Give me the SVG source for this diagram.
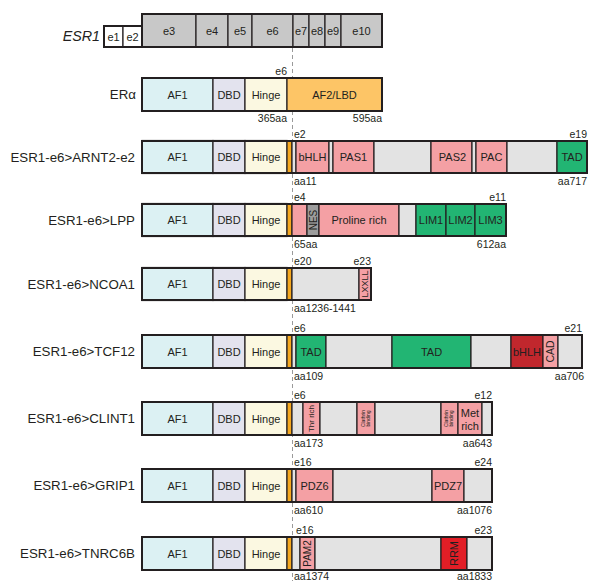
<svg xmlns="http://www.w3.org/2000/svg" width="590" height="581" viewBox="0 0 590 581">
<style>
text{font-family:"Liberation Sans",Arial,sans-serif;fill:#231f20}
.lbl{font-size:13.3px;text-anchor:end}
.in{font-size:11px;text-anchor:middle}
.sm{font-size:10.5px}
.e{text-anchor:end}
.s{stroke:#231f20;stroke-width:1.2}
.o{fill:none;stroke:#231f20;stroke-width:2}
.af1{fill:#dcf1f3}.dbd{fill:#e3e3ee}.hin{fill:#fbf8e1}.lbd{fill:#fdc566}.or{fill:#f5a81f}
.pk{fill:#f4a0a4}.gr{fill:#e3e3e3}.gn{fill:#22b573}.dr{fill:#c1272d}.rd{fill:#e21e26}.ng{fill:#9d9d9d}.ex{fill:#c8c8c8}.wh{fill:#ffffff}
</style>
<defs>
<g id="esr">
<rect class="af1 s" x="142" y="0" width="71" height="33"/>
<rect class="dbd s" x="213" y="0" width="32" height="33"/>
<rect class="hin s" x="245" y="0" width="42" height="33"/>
<text class="in" x="177.5" y="20.5">AF1</text>
<text class="in" x="229" y="20.5">DBD</text>
<text class="in" x="266" y="20.5">Hinge</text>
</g>
</defs>

<g id="connectors">
<line x1="292.5" y1="48" x2="292.5" y2="581" stroke="#9a9a9a" stroke-width="1" stroke-dasharray="4 3"/>
</g>

<g id="ESR1">
<text x="100" y="41" style="font-size:14.3px;font-style:italic;text-anchor:end">ESR1</text>
<rect class="wh s" x="104" y="26" width="19" height="21"/>
<rect class="wh s" x="123" y="26" width="19" height="21"/>
<rect class="ex s" x="142" y="14" width="54" height="33"/>
<rect class="ex s" x="196" y="14" width="32" height="33"/>
<rect class="ex s" x="228" y="14" width="24" height="33"/>
<rect class="ex s" x="252" y="14" width="41" height="33"/>
<rect class="ex s" x="293" y="14" width="16" height="33"/>
<rect class="ex s" x="309" y="14" width="16" height="33"/>
<rect class="ex s" x="325" y="14" width="16" height="33"/>
<rect class="ex s" x="341" y="14" width="41" height="33"/>
<rect class="o" x="142" y="14" width="240" height="33"/>
<rect class="o" x="104" y="26" width="38" height="21"/>
<text class="in" x="113.5" y="40.5">e1</text>
<text class="in" x="132.5" y="40.5">e2</text>
<text class="in" x="169" y="34.5">e3</text>
<text class="in" x="212" y="34.5">e4</text>
<text class="in" x="240" y="34.5">e5</text>
<text class="in" x="272.5" y="34.5">e6</text>
<text class="in" x="301" y="34.5">e7</text>
<text class="in" x="317" y="34.5">e8</text>
<text class="in" x="333" y="34.5">e9</text>
<text class="in" x="361.5" y="34.5">e10</text>
</g>

<g id="ERa">
<text class="lbl" x="136" y="99">ERα</text>
<use href="#esr" y="78"/>
<rect class="lbd s" x="287" y="78" width="95" height="33"/>
<text class="in" x="334.5" y="98.5">AF2/LBD</text>
<rect class="o" x="142" y="78" width="240" height="33"/>
<text class="sm e" x="287" y="75">e6</text>
<text class="sm e" x="287" y="121.5">365aa</text>
<text class="sm e" x="382" y="121.5">595aa</text>
</g>

<g id="ARNT2">
<text class="lbl" x="135" y="161.5">ESR1-e6&gt;ARNT2-e2</text>
<use href="#esr" y="140.5"/>
<rect class="or s" x="287" y="141" width="5" height="32"/>
<rect class="gr s" x="292" y="141" width="4" height="32"/>
<rect class="pk s" x="296" y="141" width="33" height="32"/>
<rect class="gr s" x="329" y="141" width="4" height="32"/>
<rect class="pk s" x="333" y="141" width="41" height="32"/>
<rect class="gr s" x="374" y="141" width="57" height="32"/>
<rect class="pk s" x="431" y="141" width="41" height="32"/>
<rect class="gr s" x="472" y="141" width="4" height="32"/>
<rect class="pk s" x="476" y="141" width="31" height="32"/>
<rect class="gr s" x="507" y="141" width="50" height="32"/>
<rect class="gn s" x="557" y="141" width="30" height="32"/>
<text class="in" x="312.5" y="161">bHLH</text>
<text class="in" x="353.5" y="161">PAS1</text>
<text class="in" x="452.5" y="161">PAS2</text>
<text class="in" x="491.5" y="161">PAC</text>
<text class="in" x="572" y="161">TAD</text>
<rect class="o" x="142" y="141" width="445" height="32"/>
<text class="sm" x="294" y="137.5">e2</text>
<text class="sm e" x="587" y="137.5">e19</text>
<text class="sm" x="294" y="184.5">aa11</text>
<text class="sm e" x="587" y="184.5">aa717</text>
</g>

<g id="LPP">
<text class="lbl" x="135" y="224.5">ESR1-e6&gt;LPP</text>
<use href="#esr" y="203.5"/>
<rect class="or s" x="287" y="204" width="5" height="32"/>
<rect class="pk s" x="292" y="204" width="15" height="32"/>
<rect class="ng s" x="307" y="204" width="12" height="32"/>
<rect class="pk s" x="319" y="204" width="80" height="32"/>
<rect class="gr s" x="399" y="204" width="17" height="32"/>
<rect class="gn s" x="416" y="204" width="30" height="32"/>
<rect class="gn s" x="446" y="204" width="29" height="32"/>
<rect class="gn s" x="475" y="204" width="31" height="32"/>
<text class="in" transform="translate(317,220) rotate(-90)" style="font-size:10px">NES</text>
<text class="in" x="359" y="224">Proline rich</text>
<text class="in" x="431" y="224">LIM1</text>
<text class="in" x="460.5" y="224">LIM2</text>
<text class="in" x="490.5" y="224">LIM3</text>
<rect class="o" x="142" y="204" width="364" height="32"/>
<text class="sm" x="294" y="200.5">e4</text>
<text class="sm e" x="506" y="200.5">e11</text>
<text class="sm" x="294" y="247.5">65aa</text>
<text class="sm e" x="506" y="247.5">612aa</text>
</g>

<g id="NCOA1">
<text class="lbl" x="135" y="288.5">ESR1-e6&gt;NCOA1</text>
<use href="#esr" y="267.5"/>
<rect class="or s" x="287" y="268" width="5" height="32"/>
<rect class="gr s" x="292" y="268" width="67" height="32"/>
<rect class="pk s" x="359" y="268" width="12" height="32"/>
<text class="in" transform="translate(368.2,284) rotate(-90)" style="font-size:9px">LXXLL</text>
<rect class="o" x="142" y="268" width="229" height="32"/>
<text class="sm" x="294" y="264.5">e20</text>
<text class="sm e" x="371" y="264.5">e23</text>
<text class="sm" x="294" y="311.5">aa1236-1441</text>
</g>

<g id="TCF12">
<text class="lbl" x="135" y="356">ESR1-e6&gt;TCF12</text>
<use href="#esr" y="335"/>
<rect class="or s" x="287" y="335" width="5" height="33"/>
<rect class="gr s" x="292" y="335" width="4" height="33"/>
<rect class="gn s" x="296" y="335" width="30" height="33"/>
<rect class="gr s" x="326" y="335" width="66" height="33"/>
<rect class="gn s" x="392" y="335" width="79" height="33"/>
<rect class="gr s" x="471" y="335" width="40" height="33"/>
<rect class="dr s" x="511" y="335" width="32" height="33"/>
<rect class="pk s" x="543" y="335" width="15" height="33"/>
<rect class="gr s" x="558" y="335" width="24" height="33"/>
<text class="in" x="311" y="355.5">TAD</text>
<text class="in" x="431.5" y="355.5">TAD</text>
<text class="in" x="527" y="355.5">bHLH</text>
<text class="in" transform="translate(554.3,351.5) rotate(-90)" style="font-size:10.5px">CAD</text>
<rect class="o" x="142" y="335" width="440" height="33"/>
<text class="sm" x="294" y="331.5">e6</text>
<text class="sm e" x="582" y="331.5">e21</text>
<text class="sm" x="294" y="379.5">aa109</text>
<text class="sm e" x="584" y="379.5">aa706</text>
</g>

<g id="CLINT1">
<text class="lbl" x="135" y="423">ESR1-e6&gt;CLINT1</text>
<use href="#esr" y="402"/>
<rect class="or s" x="287" y="402" width="5" height="33"/>
<rect class="gr s" x="292" y="402" width="11" height="33"/>
<rect class="pk s" x="303" y="402" width="17" height="33"/>
<rect class="gr s" x="320" y="402" width="37" height="33"/>
<rect class="pk s" x="357" y="402" width="18" height="33"/>
<rect class="gr s" x="375" y="402" width="66" height="33"/>
<rect class="pk s" x="441" y="402" width="17" height="33"/>
<rect class="pk s" x="458" y="402" width="24" height="33"/>
<rect class="gr s" x="482" y="402" width="10" height="33"/>
<text class="in" transform="translate(314.3,418.5) rotate(-90)" style="font-size:8px">Thr rich</text>
<text class="in" transform="translate(365,418.5) rotate(-90)" style="font-size:5px"><tspan x="0" y="-0.5">Clathrin</tspan><tspan x="0" y="5">binding</tspan></text>
<text class="in" transform="translate(448,418.5) rotate(-90)" style="font-size:5px"><tspan x="0" y="-0.5">Clathrin</tspan><tspan x="0" y="5">binding</tspan></text>
<text class="in" x="470" y="416.5" style="font-size:11px">Met</text>
<text class="in" x="470" y="430" style="font-size:11px">rich</text>
<rect class="o" x="142" y="402" width="350" height="33"/>
<text class="sm" x="294" y="398.5">e6</text>
<text class="sm e" x="492" y="398.5">e12</text>
<text class="sm" x="294" y="446.5">aa173</text>
<text class="sm e" x="492" y="446.5">aa643</text>
</g>

<g id="GRIP1">
<text class="lbl" x="135" y="490">ESR1-e6&gt;GRIP1</text>
<use href="#esr" y="469"/>
<rect class="or s" x="287" y="469" width="5" height="33"/>
<rect class="gr s" x="292" y="469" width="4" height="33"/>
<rect class="pk s" x="296" y="469" width="37" height="33"/>
<rect class="gr s" x="333" y="469" width="99" height="33"/>
<rect class="pk s" x="432" y="469" width="32" height="33"/>
<rect class="gr s" x="464" y="469" width="28" height="33"/>
<text class="in" x="314.5" y="489.5">PDZ6</text>
<text class="in" x="448" y="489.5">PDZ7</text>
<rect class="o" x="142" y="469" width="350" height="33"/>
<text class="sm" x="294" y="465.5">e16</text>
<text class="sm e" x="492" y="465.5">e24</text>
<text class="sm" x="294" y="513.5">aa610</text>
<text class="sm e" x="492" y="513.5">aa1076</text>
</g>

<g id="TNRC6B">
<text class="lbl" x="135" y="558">ESR1-e6&gt;TNRC6B</text>
<use href="#esr" y="537"/>
<rect class="or s" x="287" y="537" width="5" height="33"/>
<rect class="gr s" x="292" y="537" width="8" height="33"/>
<rect class="pk s" x="300" y="537" width="15" height="33"/>
<rect class="gr s" x="315" y="537" width="126" height="33"/>
<rect class="rd s" x="441" y="537" width="26" height="33"/>
<rect class="gr s" x="467" y="537" width="25" height="33"/>
<text class="in" transform="translate(311,553.5) rotate(-90)" style="font-size:10px">PAM2</text>
<text class="in" transform="translate(458,553.5) rotate(-90)" style="font-size:11px">RRM</text>
<rect class="o" x="142" y="537" width="350" height="33"/>
<text class="sm" x="296" y="533.5">e16</text>
<text class="sm e" x="492" y="533.5">e23</text>
<text class="sm" x="294" y="580">aa1374</text>
<text class="sm e" x="492" y="580">aa1833</text>
</g>
</svg>
